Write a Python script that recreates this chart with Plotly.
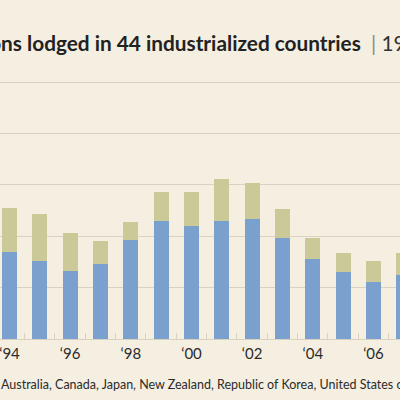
import plotly.graph_objects as go

# asylum applications (thousands)
years = [1994, 1995, 1996, 1997, 1998, 1999, 2000, 2001, 2002, 2003, 2004, 2005, 2006, 2007]
europe = [339, 303, 266, 293, 386, 459, 438, 459, 466, 393, 310, 262, 223, 249]
non_europe = [171, 182, 145, 87, 70, 114, 133, 164, 140, 112, 84, 74, 82, 87]
tick_years = [1994, 1996, 1998, 2000, 2002, 2004, 2006]
tick_text = ["‘94", "‘96", "‘98", "‘00", "‘02", "‘04", "‘06"]

BG = "#f5efe1"
GRID = "#d9d2c2"
TXT = "#2b2b2b"

fig = go.Figure()
fig.add_trace(go.Bar(x=years, y=[v * 1000 for v in europe], name="Europe",
                     marker=dict(color="#7aa0cd", line=dict(width=0))))
fig.add_trace(go.Bar(x=years, y=[v * 1000 for v in non_europe], name="Non-Europe",
                     marker=dict(color="#cbc998", line=dict(width=0))))

fig.update_layout(
    width=400, height=400,
    barmode="stack", bargap=0.5,
    paper_bgcolor=BG, plot_bgcolor=BG,
    margin=dict(l=0, r=0, t=81, b=61),
    showlegend=False,
    font=dict(family="Lato", color=TXT),
    xaxis=dict(
        range=[1993.687, 2006.875],
        tickmode="array", tickvals=tick_years, ticktext=tick_text,
        ticks="", showgrid=False, zeroline=False, showline=False,
        tickfont=dict(size=15, color=TXT),
        ticklabeloverflow="allow", ticklabelstandoff=4,
        minor=dict(ticks="inside", tick0=1993.5, dtick=1, ticklen=6,
                   tickcolor=GRID, showgrid=False),
    ),
    yaxis=dict(
        range=[0, 1004000], dtick=200000,
        showticklabels=False, ticks="",
        showgrid=True, gridcolor=GRID, gridwidth=1,
        zeroline=True, zerolinecolor=GRID, zerolinewidth=1,
    ),
)

# title is cropped on both sides in the reference
fig.add_annotation(
    text="<b>Asylum applications lodged in 44 industrialized countries</b>",
    xref="paper", yref="paper", x=363 / 400, y=(339 - 43) / 258,
    xanchor="right", yanchor="middle", showarrow=False,
    font=dict(size=20.8, color="#222222", family="Lato"),
)
fig.add_annotation(
    text="<span style='color:#8a8a8a'>|</span> 1994–2007",
    xref="paper", yref="paper", x=369 / 400, y=(339 - 43) / 258,
    xanchor="left", yanchor="middle", showarrow=False,
    font=dict(size=20.8, color="#333333", family="Lato"),
)
fig.add_annotation(
    text="Australia, Canada, Japan, New Zealand, Republic of Korea, United States of America",
    xref="paper", yref="paper", x=-1 / 400, y=(339 - 384) / 258,
    xanchor="left", yanchor="middle", showarrow=False,
    font=dict(size=12.5, color=TXT, family="Lato"),
)

# page has no margin so the 400x400 figure fills the window
fig.write_html("out.html",
               config={"displayModeBar": False},
               post_script="document.body.style.margin='0';"
                           "document.body.style.overflow='hidden';"
                           "document.body.style.background='#f5efe1';")
